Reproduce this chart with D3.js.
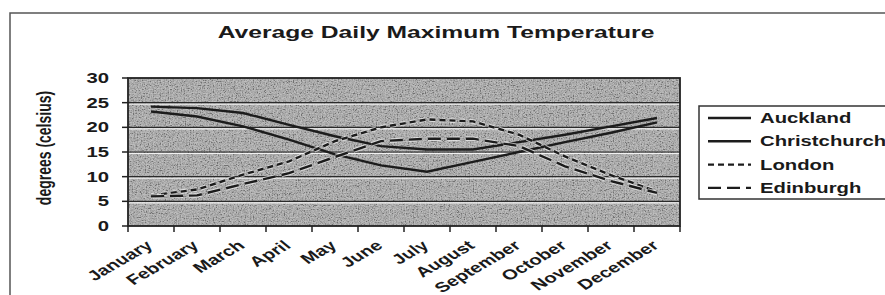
<!DOCTYPE html>
<html>
<head>
<meta charset="utf-8">
<script src="https://cdn.jsdelivr.net/npm/d3@7"></script>
<style>
body { margin: 0; background: #fff; }
text { font-family: Arial, "Liberation Sans", sans-serif; font-weight: bold; fill: #1a1a1a; }
</style>
</head>
<body>
<div id="chart"></div>
<script>
// data
var months = ["January", "February", "March", "April", "May", "June", "July",
	"August", "September", "October", "November", "December"];
var auckland = [24.2, 23.9, 22.9, 20.5, 18.2, 16.2, 15.5, 15.5, 17, 18.5, 20.2, 21.9];
var christchurch = [23.2, 22.2, 20.2, 17.5, 14.5, 12.3, 11, 13, 15, 17, 18.9, 21];
var london = [6.2, 7.4, 10.4, 13.1, 17.2, 20, 21.6, 21.2, 18.5, 14.1, 10.3, 7];
var edinburgh = [6, 6.2, 8.5, 10.7, 14, 17.2, 17.7, 17.7, 16.2, 12.1, 9.1, 6.7];
var yTicks = [0, 5, 10, 15, 20, 25, 30];

var seriesNames = ["Auckland", "Christchurch", "London", "Edinburgh"];
var seriesData = [auckland, christchurch, london, edinburgh];
var dashes = [null, null, "6,4", "13,6"];

var width = 885, height = 295;
var stretch = 1.45; // the picture is wider than tall

var svg = d3.select("#chart").append("svg")
	.attr("width", width)
	.attr("height", height);

var defs = svg.append("defs");
var noise = defs.append("filter").attr("id", "grain")
	.attr("x", 0).attr("y", 0).attr("width", 1).attr("height", 1);
noise.append("feTurbulence")
	.attr("type", "fractalNoise")
	.attr("baseFrequency", 0.75)
	.attr("numOctaves", 2)
	.attr("seed", 3);
noise.append("feColorMatrix").attr("type", "saturate").attr("values", 0);
var ct = noise.append("feComponentTransfer");
["feFuncR", "feFuncG", "feFuncB"].forEach(function (f) {
	ct.append(f).attr("type", "linear").attr("slope", 3).attr("intercept", -1);
});
ct.append("feFuncA").attr("type", "table").attr("tableValues", "1 1");

// outer frame
svg.append("path")
	.attr("d", "M10," + height + "V13H" + width)
	.attr("fill", "none")
	.attr("stroke", "#555")
	.attr("stroke-width", 1.5);

var plot = {left: 128, right: 680, top: 78, bottom: 226};

var x = d3.scaleBand()
	.domain(months)
	.range([plot.left, plot.right]);
var y = d3.scaleLinear()
	.domain([0, 30])
	.range([plot.bottom, plot.top]);

function stretchedText(g, px, py) {
	return g.append("text")
		.attr("transform", "translate(" + px + "," + py + ") scale(" + stretch + ",1)");
}

// title
stretchedText(svg, 436, 38)
	.attr("text-anchor", "middle")
	.style("font-size", "17px")
	.text("Average Daily Maximum Temperature");

// plot background
svg.append("rect")
	.attr("x", plot.left).attr("y", plot.top)
	.attr("width", plot.right - plot.left)
	.attr("height", plot.bottom - plot.top)
	.attr("fill", "#a4a4a4");
svg.append("rect")
	.attr("x", plot.left).attr("y", plot.top)
	.attr("width", plot.right - plot.left)
	.attr("height", plot.bottom - plot.top)
	.attr("filter", "url(#grain)")
	.attr("opacity", 0.3);

// gridlines
yTicks.slice(1, -1).forEach(function (t) {
	svg.append("line")
		.attr("x1", plot.left).attr("x2", plot.right)
		.attr("y1", y(t) + 1.5).attr("y2", y(t) + 1.5)
		.attr("stroke", "#f2f2f2").attr("stroke-width", 1.2);
	svg.append("line")
		.attr("x1", plot.left).attr("x2", plot.right)
		.attr("y1", y(t)).attr("y2", y(t))
		.attr("stroke", "#2a2a2a").attr("stroke-width", 1.2);
});

// lines
var line = d3.line()
	.x(function (d, i) { return x(months[i]) + x.bandwidth() / 2; })
	.y(function (d) { return y(d); });

seriesData.forEach(function (s, i) {
	if (dashes[i]) {
		svg.append("path")
			.attr("d", line(s))
			.attr("fill", "none")
			.attr("stroke", "#eee")
			.attr("stroke-width", 4.5)
			.attr("stroke-dasharray", dashes[i])
			.attr("opacity", 0.7);
	}
	svg.append("path")
		.attr("d", line(s))
		.attr("fill", "none")
		.attr("stroke", "#1c1c1c")
		.attr("stroke-width", 2.4)
		.attr("stroke-dasharray", dashes[i]);
});

// plot border
svg.append("rect")
	.attr("x", plot.left).attr("y", plot.top)
	.attr("width", plot.right - plot.left)
	.attr("height", plot.bottom - plot.top)
	.attr("fill", "none")
	.attr("stroke", "#222")
	.attr("stroke-width", 1.8);

// y axis
yTicks.forEach(function (t) {
	svg.append("line")
		.attr("x1", plot.left - 6).attr("x2", plot.left)
		.attr("y1", y(t)).attr("y2", y(t))
		.attr("stroke", "#222").attr("stroke-width", 1.5);
	stretchedText(svg, 109, y(t) + 5)
		.attr("text-anchor", "end")
		.style("font-size", "14px")
		.text(t);
});

svg.append("text")
	.attr("transform", "translate(51,148) scale(" + stretch + ",1) rotate(-90)")
	.attr("text-anchor", "middle")
	.style("font-size", "14px")
	.text("degrees (celsius)");

// x axis ticks at category edges
months.concat(["end"]).forEach(function (m, i) {
	var px = i < months.length ? x(m) : plot.right;
	svg.append("line")
		.attr("x1", px).attr("x2", px)
		.attr("y1", plot.bottom).attr("y2", plot.bottom + 6)
		.attr("stroke", "#222").attr("stroke-width", 1.5);
});

months.forEach(function (m) {
	var cx = x(m) + x.bandwidth() / 2;
	svg.append("text")
		.attr("transform", "translate(" + (cx + 3) + "," + (plot.bottom + 21) + ") scale(" + stretch + ",1) rotate(-40)")
		.attr("text-anchor", "end")
		.style("font-size", "14px")
		.text(m);
});

// legend
var legend = svg.append("g");
legend.append("rect")
	.attr("x", 699).attr("y", 106)
	.attr("width", 200).attr("height", 93)
	.attr("fill", "#fff")
	.attr("stroke", "#333")
	.attr("stroke-width", 1.5);

seriesNames.forEach(function (name, i) {
	var ly = 118 + i * 23.3;
	legend.append("line")
		.attr("x1", 708).attr("x2", 751)
		.attr("y1", ly).attr("y2", ly)
		.attr("stroke", "#1c1c1c")
		.attr("stroke-width", 2.4)
		.attr("stroke-dasharray", dashes[i]);
	stretchedText(legend, 760, ly + 5)
		.style("font-size", "14px")
		.text(name);
});
</script>
</body>
</html>
